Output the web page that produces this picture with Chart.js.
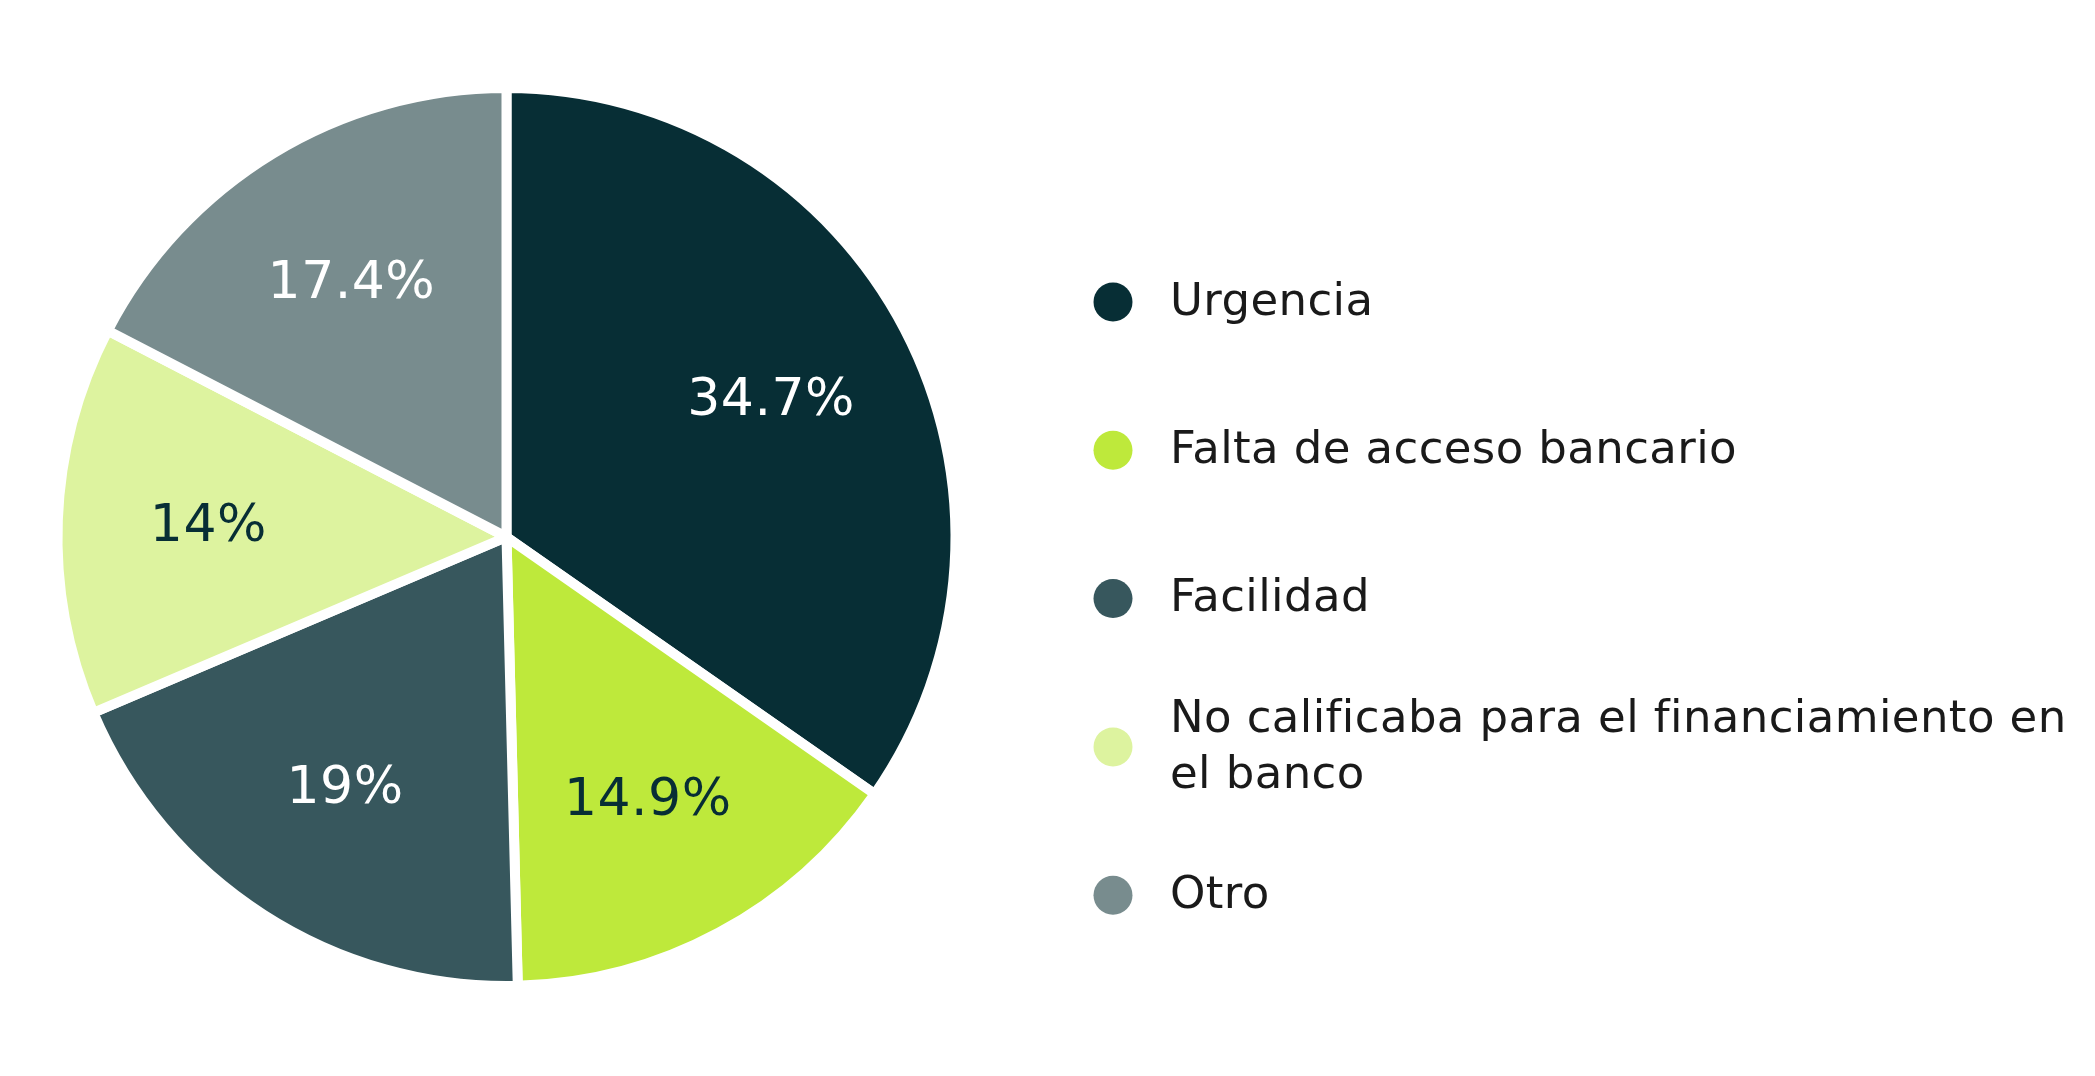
<!DOCTYPE html>
<html>
<head>
<meta charset="utf-8">
<script src="https://cdn.jsdelivr.net/npm/chart.js@4.4.1/dist/chart.umd.min.js"></script>
<style>
  html, body { margin: 0; padding: 0; background: #ffffff; }
  #wrap { width: 2095px; height: 1076px; position: relative; }
</style>
</head>
<body>
<div id="wrap"><canvas id="c" width="2095" height="1076"></canvas></div>
<script>
const categories = [
  'Urgencia',
  'Falta de acceso bancario',
  'Facilidad',
  'No calificaba para el financiamiento en el banco',
  'Otro'
];
const values = [34.7, 14.9, 19, 14, 17.4];
const sliceColors = ['#072e35', '#bee93b', '#37575d', '#ddf39f', '#788c8e'];
const labelColors = ['#ffffff', '#072e35', '#ffffff', '#072e35', '#ffffff'];

const FONT = '"DejaVu Sans", "Noto Sans", sans-serif';

const sliceLabels = {
  id: 'sliceLabels',
  afterDatasetsDraw(chart) {
    const ctx = chart.ctx;
    const meta = chart.getDatasetMeta(0);
    ctx.save();
    ctx.font = '52px ' + FONT;
    if ('letterSpacing' in ctx) ctx.letterSpacing = '0.5px';
    ctx.textAlign = 'center';
    ctx.textBaseline = 'middle';
    meta.data.forEach((arc, i) => {
      const p = arc.getProps(['x', 'y', 'startAngle', 'endAngle', 'outerRadius'], true);
      const mid = (p.startAngle + p.endAngle) / 2;
      const r = (p.outerRadius - 5) * 0.672;
      const x = p.x + Math.cos(mid) * r;
      const y = p.y + Math.sin(mid) * r + 2;
      ctx.fillStyle = labelColors[i];
      ctx.fillText(values[i] + '%', x, y);
    });
    ctx.restore();
  }
};

const sideLegend = {
  id: 'sideLegend',
  afterDraw(chart) {
    const ctx = chart.ctx;
    const dotX = 1113, textX = 1170, firstY = 302, step = 148.3, lineH = 56;
    const maxW = chart.width - textX - 4;
    ctx.save();
    ctx.font = '45px ' + FONT;
    if ('letterSpacing' in ctx) ctx.letterSpacing = '0.4px';
    ctx.textBaseline = 'middle';
    ctx.textAlign = 'left';
    chart.data.labels.forEach((lab, i) => {
      const cy = firstY + i * step;
      const words = lab.split(' ');
      const lines = [];
      let cur = '';
      words.forEach(w => {
        const t = cur ? cur + ' ' + w : w;
        if (ctx.measureText(t).width > maxW && cur) { lines.push(cur); cur = w; }
        else cur = t;
      });
      if (cur) lines.push(cur);
      ctx.fillStyle = chart.data.datasets[0].backgroundColor[i];
      ctx.beginPath();
      ctx.arc(dotX, cy, 19.5, 0, Math.PI * 2);
      ctx.fill();
      ctx.fillStyle = '#1a1a1a';
      const y0 = cy - (lines.length - 1) * lineH / 2;
      lines.forEach((ln, k) => ctx.fillText(ln, textX, y0 + k * lineH + 1));
    });
    ctx.restore();
  }
};

new Chart(document.getElementById('c'), {
  type: 'pie',
  data: {
    labels: categories,
    datasets: [{
      data: values,
      backgroundColor: sliceColors,
      borderColor: '#ffffff',
      borderWidth: 10,
      hoverOffset: 0
    }]
  },
  options: {
    responsive: false,
    animation: false,
    devicePixelRatio: 1,
    radius: 449,
    layout: { padding: { left: 57, right: 1139, top: 88, bottom: 90 } },
    plugins: {
      legend: { display: false },
      tooltip: { enabled: false }
    }
  },
  plugins: [sliceLabels, sideLegend]
});
</script>
</body>
</html>
